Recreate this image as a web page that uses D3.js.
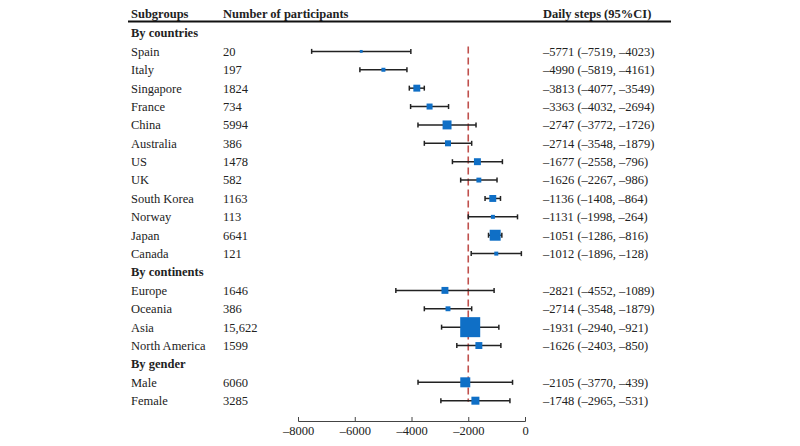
<!DOCTYPE html>
<html>
<head>
<meta charset="utf-8">
<script src="https://d3js.org/d3.v7.min.js"></script>
<style>
  body { margin: 0; background: #fff; }
  svg text { font-family: "Liberation Serif", "Times New Roman", serif; font-size: 12.5px; fill: #222; }
  .bold { font-weight: bold; }
</style>
</head>
<body>
<svg id="chart" width="800" height="446"></svg>
<script>
// rows in order, group headers have null values
const labels = ["By countries", "Spain", "Italy", "Singapore", "France", "China", "Australia", "US", "UK",
  "South Korea", "Norway", "Japan", "Canada", "By continents", "Europe", "Oceania", "Asia", "North America",
  "By gender", "Male", "Female"];
const participants = [null, 20, 197, 1824, 734, 5994, 386, 1478, 582, 1163, 113, 6641, 121,
  null, 1646, 386, 15622, 1599, null, 6060, 3285];
const estimate = [null, -5771, -4990, -3813, -3363, -2747, -2714, -1677, -1626, -1136, -1131, -1051, -1012,
  null, -2821, -2714, -1931, -1626, null, -2105, -1748];
const lower = [null, -7519, -5819, -4077, -4032, -3772, -3548, -2558, -2267, -1408, -1998, -1286, -1896,
  null, -4552, -3548, -2940, -2403, null, -3770, -2965];
const upper = [null, -4023, -4161, -3549, -2694, -1726, -1879, -796, -986, -864, -264, -816, -128,
  null, -1089, -1879, -921, -850, null, -439, -531];
// relative weight (box area)
const weight = [null, 2, 4, 12, 9, 20, 9, 12, 6, 12, 4, 30, 4, null, 12, 6, 100, 12, null, 25, 16];
const overall = -2000;
const xTicks = [-8000, -6000, -4000, -2000, 0];

const svg = d3.select("#chart");
const x = d3.scaleLinear().domain([-8000, 0]).range([298, 525]);
const y = d3.scalePoint().domain(d3.range(labels.length)).range([33, 400.7]);
const size = d3.scaleSqrt().domain([0, 100]).range([0, 20]);
const fmtN = n => n >= 10000 ? d3.format(",")(n) : String(n);
const fmtS = v => String(v).replace("-", "\u2013");

const rows = labels.map((l, i) => ({
  i, label: l, n: participants[i], est: estimate[i], lo: lower[i], hi: upper[i], w: weight[i]
}));
const data = rows.filter(d => d.est !== null);

// header
const head = svg.append("g");
head.append("text").attr("class", "bold").attr("x", 131).attr("y", 18).text("Subgroups");
head.append("text").attr("class", "bold").attr("x", 223).attr("y", 18).text("Number of participants");
head.append("text").attr("class", "bold").attr("x", 543).attr("y", 18).text("Daily steps (95%CI)");
head.append("line").attr("x1", 128).attr("x2", 671).attr("y1", 21.5).attr("y2", 21.5)
  .attr("stroke", "#111").attr("stroke-width", 2);

// reference line
svg.append("line")
  .attr("x1", x(overall)).attr("x2", x(overall))
  .attr("y1", y(1) - 5).attr("y2", y(labels.length - 1) + 1)
  .attr("stroke", "#c0504d").attr("stroke-width", 1.6)
  .attr("stroke-dasharray", "7,4");

// text columns
svg.append("g").selectAll("text").data(rows).join("text")
  .attr("class", d => d.est === null ? "bold" : null)
  .attr("x", 131).attr("y", d => y(d.i)).attr("dy", "0.35em")
  .text(d => d.label);

svg.append("g").selectAll("text").data(data).join("text")
  .attr("x", 223).attr("y", d => y(d.i)).attr("dy", "0.35em")
  .text(d => fmtN(d.n));

svg.append("g").selectAll("text").data(data).join("text")
  .attr("x", 543).attr("y", d => y(d.i)).attr("dy", "0.35em")
  .text(d => `${fmtS(d.est)} (${fmtS(d.lo)}, ${fmtS(d.hi)})`);

// CI whiskers
const ci = svg.append("g").attr("stroke", "#222").attr("stroke-width", 1.5);
ci.selectAll("line.ci").data(data).join("line").attr("class", "ci")
  .attr("x1", d => x(d.lo)).attr("x2", d => x(d.hi))
  .attr("y1", d => y(d.i)).attr("y2", d => y(d.i));
ci.selectAll("line.capl").data(data).join("line").attr("class", "capl")
  .attr("x1", d => x(d.lo)).attr("x2", d => x(d.lo))
  .attr("y1", d => y(d.i) - 2.5).attr("y2", d => y(d.i) + 2.5);
ci.selectAll("line.caph").data(data).join("line").attr("class", "caph")
  .attr("x1", d => x(d.hi)).attr("x2", d => x(d.hi))
  .attr("y1", d => y(d.i) - 2.5).attr("y2", d => y(d.i) + 2.5);

// boxes
svg.append("g").selectAll("rect").data(data).join("rect")
  .attr("x", d => x(d.est) - size(d.w) / 2)
  .attr("y", d => y(d.i) - size(d.w) / 2)
  .attr("width", d => size(d.w)).attr("height", d => size(d.w))
  .attr("fill", "#0f6fc6");

// axis
const axis = svg.append("g").attr("transform", "translate(0,421)")
  .call(d3.axisTop(x).tickValues(xTicks).tickSize(4).tickFormat(fmtS));
axis.selectAll("path, line").attr("stroke", "#444");
axis.selectAll("text").attr("y", 10).attr("dy", "0.35em").style("font-size", "12.5px").attr("fill", "#222");
</script>
</body>
</html>
